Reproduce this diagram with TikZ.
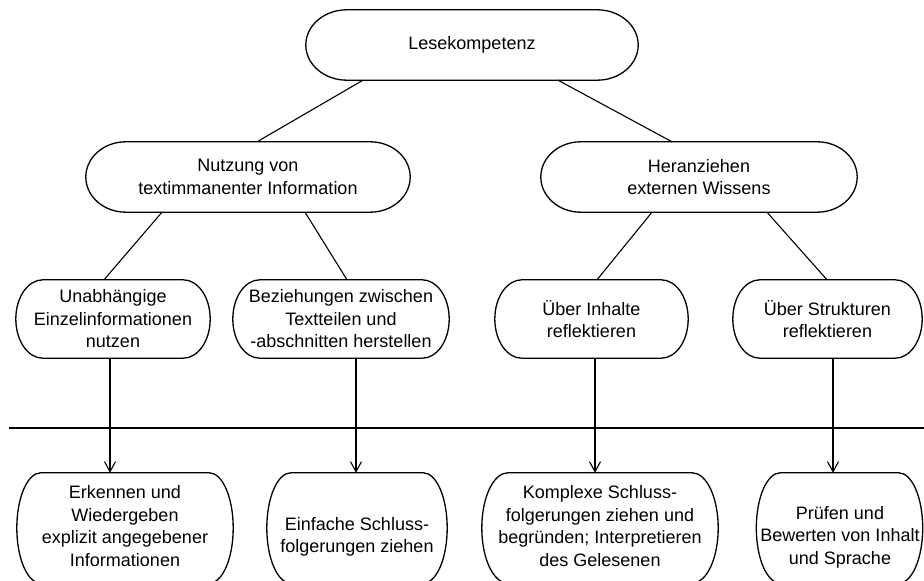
\documentclass[tikz,border=0pt]{standalone}
\usepackage{fontspec}
\setmainfont{Liberation Sans}
\usetikzlibrary{calc,arrows.meta}
\newcommand\capsule[2]{%
  \draw[boxline] let \p1=(#1.north east), \p2=(#1.south west), \n1={(\y1-\y2)/2} in
    (\x2+#2pt,\y1) -- (\x1-#2pt,\y1)
    arc[start angle=90,end angle=-90,x radius=#2pt,y radius=\n1]
    -- (\x2+#2pt,\y2)
    arc[start angle=270,end angle=90,x radius=#2pt,y radius=\n1] -- cycle;}
\tikzset{
  boxline/.style={line width=1.3pt, black},
  conn/.style={line width=1.1pt, black},
  arr/.style={conn, -{Straight Barb[length=10pt,width=11pt,line width=1.1pt]}},
  shp/.style={rectangle, draw=none, inner sep=0pt, align=center,
    font=\fontsize{18}{22.5}\selectfont},
  txt/.style={inner sep=0pt, align=center, font=\fontsize{18}{22.5}\selectfont},
}
\begin{document}
\begin{tikzpicture}[x=1pt,y=1pt]
\useasboundingbox (0,0) rectangle (924,581);
\clip (0,0) rectangle (924,581);
% level 1
\node[shp, minimum width=332, minimum height=70] (top) at (472,536) {Lesekompetenz};
% level 2
\node[shp, minimum width=324, minimum height=70] (nutz) at (248,404) {Nutzung von\\textimmanenter Information};
\node[shp, minimum width=316, minimum height=70] (her) at (699,404) {Heranziehen\\externen Wissens};
% level 3
\node[shp, minimum width=194, minimum height=78] (c1) at (113,262) {Unabhängige\\Einzelinformationen\\nutzen};
\node[shp, minimum width=216, minimum height=78] (c2) at (341,262) {Beziehungen zwischen\\Textteilen und\\-abschnitten herstellen};
\node[shp, minimum width=193, minimum height=78] (c3) at (591.5,262) {Über Inhalte\\reflektieren};
\node[shp, minimum width=189, minimum height=78] (c4) at (827.5,262) {Über Strukturen\\reflektieren};
% level 4 (shapes)
\node[shp, minimum width=216, minimum height=110] (d1) at (125,53) {};
\node[shp, minimum width=180, minimum height=110] (d2) at (357,53) {};
\node[shp, minimum width=236, minimum height=110] (d3) at (600,53) {};
\node[shp, minimum width=166, minimum height=110] (d4) at (839.5,53) {};
% level 4 texts
\node[txt] (d1t) at (125,55) {Erkennen und\\Wiedergeben\\explizit angegebener\\Informationen};
\node[txt] (d2t) at (357,44) {Einfache Schluss-\\folgerungen ziehen};
\node[txt] (d3t) at (600,55) {Komplexe Schluss-\\folgerungen ziehen und\\begründen; Interpretieren\\des Gelesenen};
\node[txt] (d4t) at (840,44) {Prüfen und\\Bewerten von Inhalt\\und Sprache};
% outlines
\capsule{top}{41}
\capsule{nutz}{40}
\capsule{her}{40}
\capsule{c1}{27}
\capsule{c2}{27}
\capsule{c3}{27}
\capsule{c4}{27}
\capsule{d1}{24}
\capsule{d2}{24}
\capsule{d3}{26}
\capsule{d4}{24}
% connectors
\draw[conn] ($(top.south)+(-109,0)$) -- ($(nutz.north)+(9,0)$);
\draw[conn] ($(top.south)+(86,0)$) -- ($(her.north)+(-27,0)$);
\draw[conn] ($(nutz.south)+(-86,0)$) -- ($(c1.north)+(-9,0)$);
\draw[conn] ($(nutz.south)+(57,0)$) -- ($(c2.north)+(6,0)$);
\draw[conn] ($(her.south)+(-47,0)$) -- ($(c3.north)+(5.5,0)$);
\draw[conn] ($(her.south)+(68,0)$) -- ($(c4.north)+(-0.5,0)$);
% separator line
\coordinate (hl) at (9,153);
\coordinate (hr) at (924,153);
\draw[conn] (hl) -- (hr);
% arrows
\coordinate (s1) at ($(c1.south)+(-3,0)$);
\coordinate (s2) at ($(c2.south)+(15,0)$);
\coordinate (s3) at ($(c3.south)+(3.5,0)$);
\coordinate (s4) at ($(c4.south)+(5.5,0)$);
\draw[arr] (s1) -- (s1 |- d1.north);
\draw[arr] (s2) -- (s2 |- d2.north);
\draw[arr] (s3) -- (s3 |- d3.north);
\draw[arr] (s4) -- (s4 |- d4.north);
\end{tikzpicture}
\end{document}
